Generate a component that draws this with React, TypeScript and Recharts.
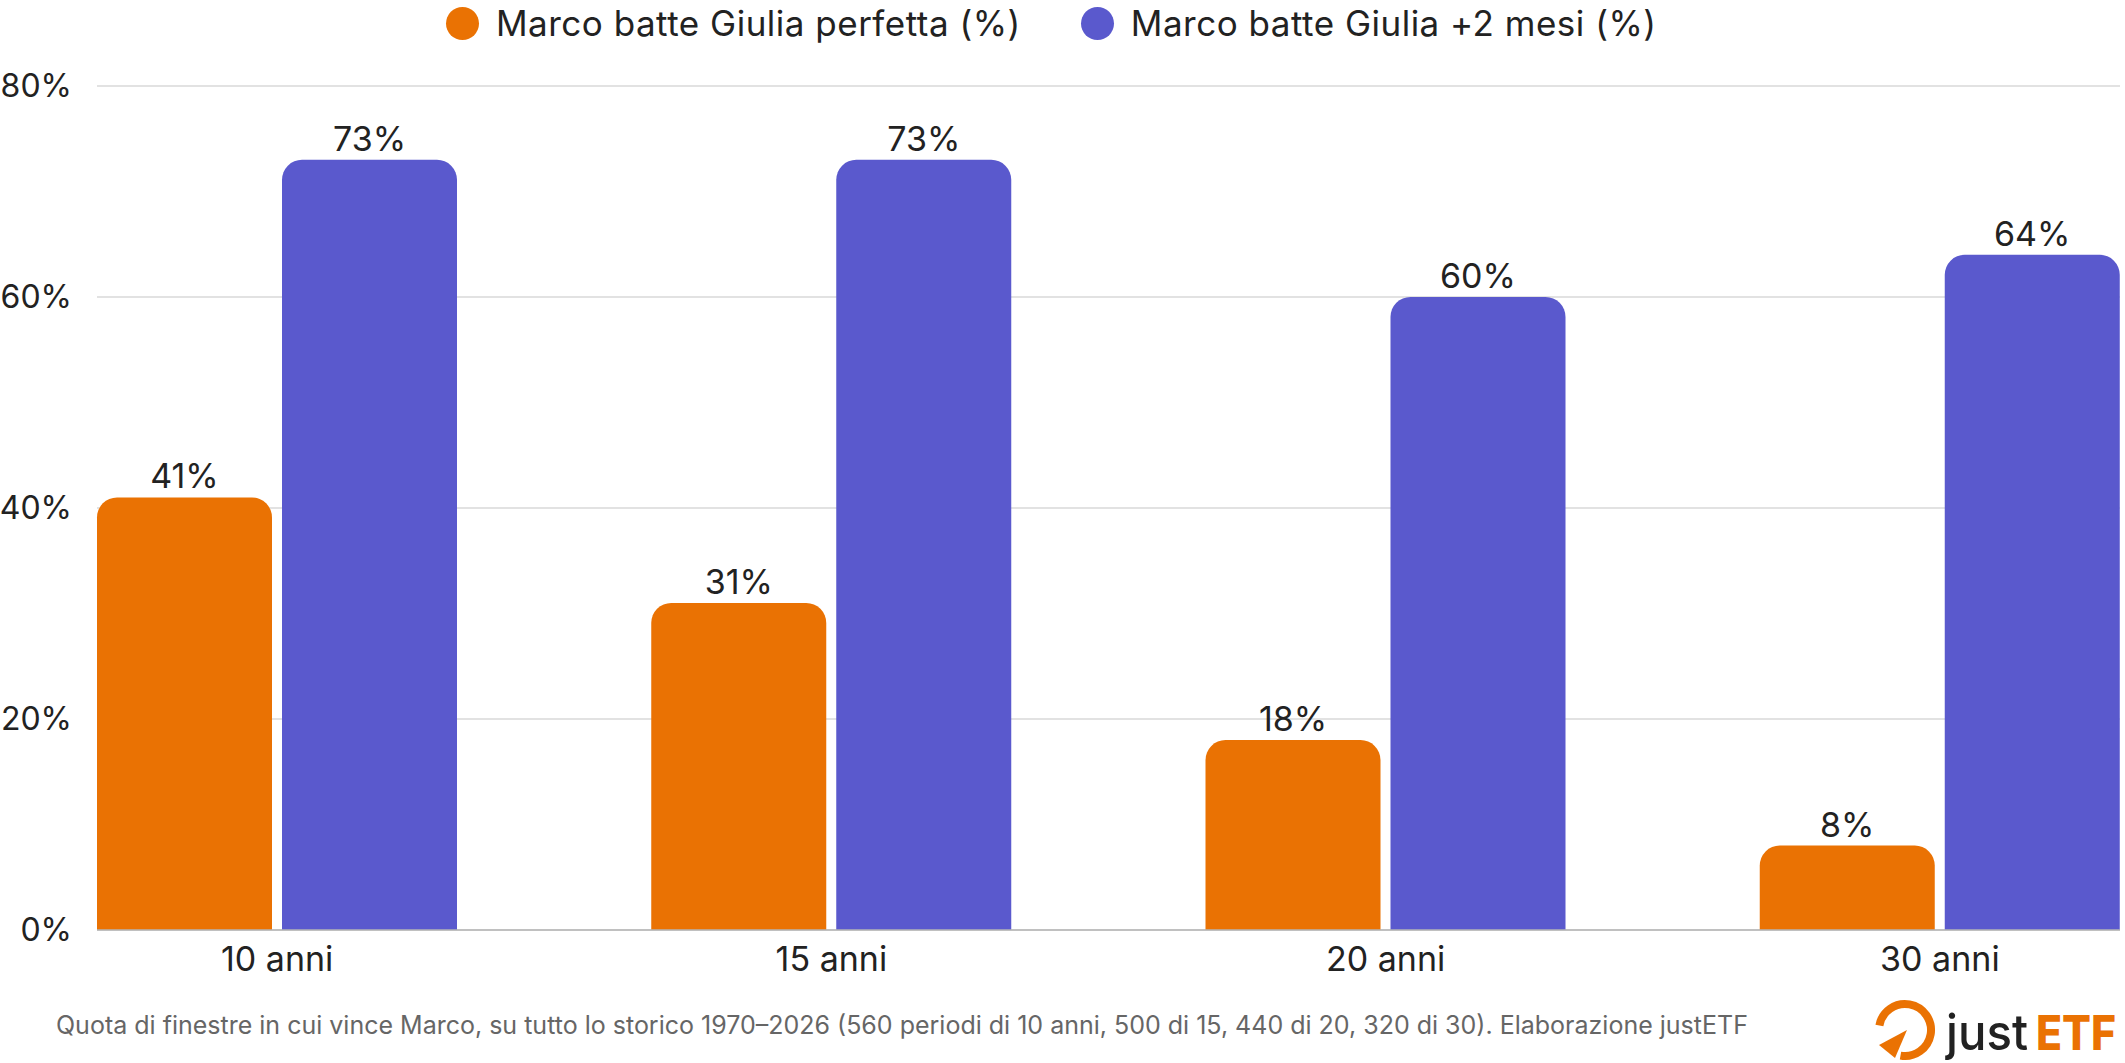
import React from "react";
import { BarChart, Bar, XAxis, YAxis, CartesianGrid, LabelList } from "recharts";

// Share of rolling windows in which Marco beats Giulia
const categories = ["10 anni", "15 anni", "20 anni", "30 anni"];
const perfectTiming = [41, 31, 18, 8];
const twoMonthsLate = [73, 73, 60, 64];
const yTicks = [0, 20, 40, 60, 80];

const seriesNames = ["Marco batte Giulia perfetta (%)", "Marco batte Giulia +2 mesi (%)"];
const ORANGE = "#EA7203";
const BLUE = "#5A59CD";
const FONT = "Inter, 'Noto Sans', sans-serif";
const FOOTNOTE =
  "Quota di finestre in cui vince Marco, su tutto lo storico 1970–2026 (560 periodi di 10 anni, 500 di 15, 440 di 20, 320 di 30). Elaborazione justETF";

const data = categories.map((c, i) => ({
  cat: c,
  perf: perfectTiming[i],
  plus2: twoMonthsLate[i],
}));

if (typeof document !== "undefined") {
  document.body.style.margin = "0";
}

const pct = (v: number) => `${v}%`;

function LegendRow() {
  const colors = [ORANGE, BLUE];
  return (
    <div
      style={{
        position: "absolute",
        top: 0,
        left: 446,
        height: 46,
        display: "flex",
        alignItems: "center",
        fontFamily: FONT,
        fontSize: 35,
        letterSpacing: 0.5,
        color: "#222",
        whiteSpace: "nowrap",
      }}
    >
      {seriesNames.map((n, i) => (
        <div key={n} style={{ display: "flex", alignItems: "center", marginRight: i === 0 ? 60 : 0 }}>
          <span
            style={{
              width: 33,
              height: 33,
              borderRadius: "50%",
              background: colors[i],
              display: "inline-block",
              marginRight: 17,
            }}
          />
          <span>{n}</span>
        </div>
      ))}
    </div>
  );
}

function Logo() {
  const cx = 1905;
  const cy = 1030;
  const r = 26;
  const a0 = (190 * Math.PI) / 180;
  const a1 = (100 * Math.PI) / 180;
  const p0 = [cx + r * Math.cos(a0), cy + r * Math.sin(a0)];
  const p1 = [cx + r * Math.cos(a1), cy + r * Math.sin(a1)];
  return (
    <svg
      width={2125}
      height={1063}
      style={{ position: "absolute", left: 0, top: 0, pointerEvents: "none" }}
    >
      <path
        d={`M ${p0[0]} ${p0[1]} A ${r} ${r} 0 1 1 ${p1[0]} ${p1[1]}`}
        fill="none"
        stroke={ORANGE}
        strokeWidth={8}
      />
      <polygon points={`${cx + 2},${cy} ${cx - 26},${cy + 15} ${cx - 10},${cy + 28}`} fill={ORANGE} />
      <text
        x={1946}
        y={1050}
        fontFamily={FONT}
        fontSize={50}
        fontWeight={500}
        fill="#222"
        textLength={82}
        lengthAdjust="spacingAndGlyphs"
      >
        just
      </text>
      <text
        x={2036}
        y={1050}
        fontFamily={FONT}
        fontSize={48}
        fontWeight={800}
        fill={ORANGE}
        textLength={80}
        lengthAdjust="spacingAndGlyphs"
      >
        ETF
      </text>
    </svg>
  );
}

export default function App() {
  return (
    <div style={{ position: "relative", width: 2125, height: 1063, background: "#fff", overflow: "hidden" }}>
      <BarChart
        width={2125}
        height={1063}
        data={data}
        margin={{ top: 86, right: 5, left: 0, bottom: 0 }}
        barGap={10}
        barSize={175}
      >
        <CartesianGrid vertical={false} stroke="#d9d9d9" strokeWidth={1.5} />
        <XAxis
          dataKey="cat"
          padding={{ left: -97, right: -97 }}
          height={133}
          tickLine={false}
          tickSize={0}
          tickMargin={17}
          axisLine={{ stroke: "#b5b5b5", strokeWidth: 1.5 }}
          tick={{ fontFamily: FONT, fontSize: 34, fill: "#222" }}
        />
        <YAxis
          width={97}
          domain={[0, 80]}
          ticks={yTicks}
          tickFormatter={pct}
          axisLine={false}
          tickLine={false}
          tickSize={0}
          tickMargin={25}
          tick={{ fontFamily: FONT, fontSize: 32, fill: "#222" }}
        />
        <Bar dataKey="perf" name={seriesNames[0]} fill={ORANGE} radius={[20, 20, 0, 0]} isAnimationActive={false}>
          <LabelList
            dataKey="perf"
            position="top"
            offset={9}
            formatter={pct}
            style={{ fontFamily: FONT, fontSize: 34, fill: "#222" }}
          />
        </Bar>
        <Bar dataKey="plus2" name={seriesNames[1]} fill={BLUE} radius={[20, 20, 0, 0]} isAnimationActive={false}>
          <LabelList
            dataKey="plus2"
            position="top"
            offset={9}
            formatter={pct}
            style={{ fontFamily: FONT, fontSize: 34, fill: "#222" }}
          />
        </Bar>
      </BarChart>
      <LegendRow />
      <div
        style={{
          position: "absolute",
          left: 56,
          top: 1010,
          fontFamily: FONT,
          fontSize: 25,
          color: "#666",
          whiteSpace: "nowrap",
        }}
      >
        {FOOTNOTE}
      </div>
      <Logo />
    </div>
  );
}
